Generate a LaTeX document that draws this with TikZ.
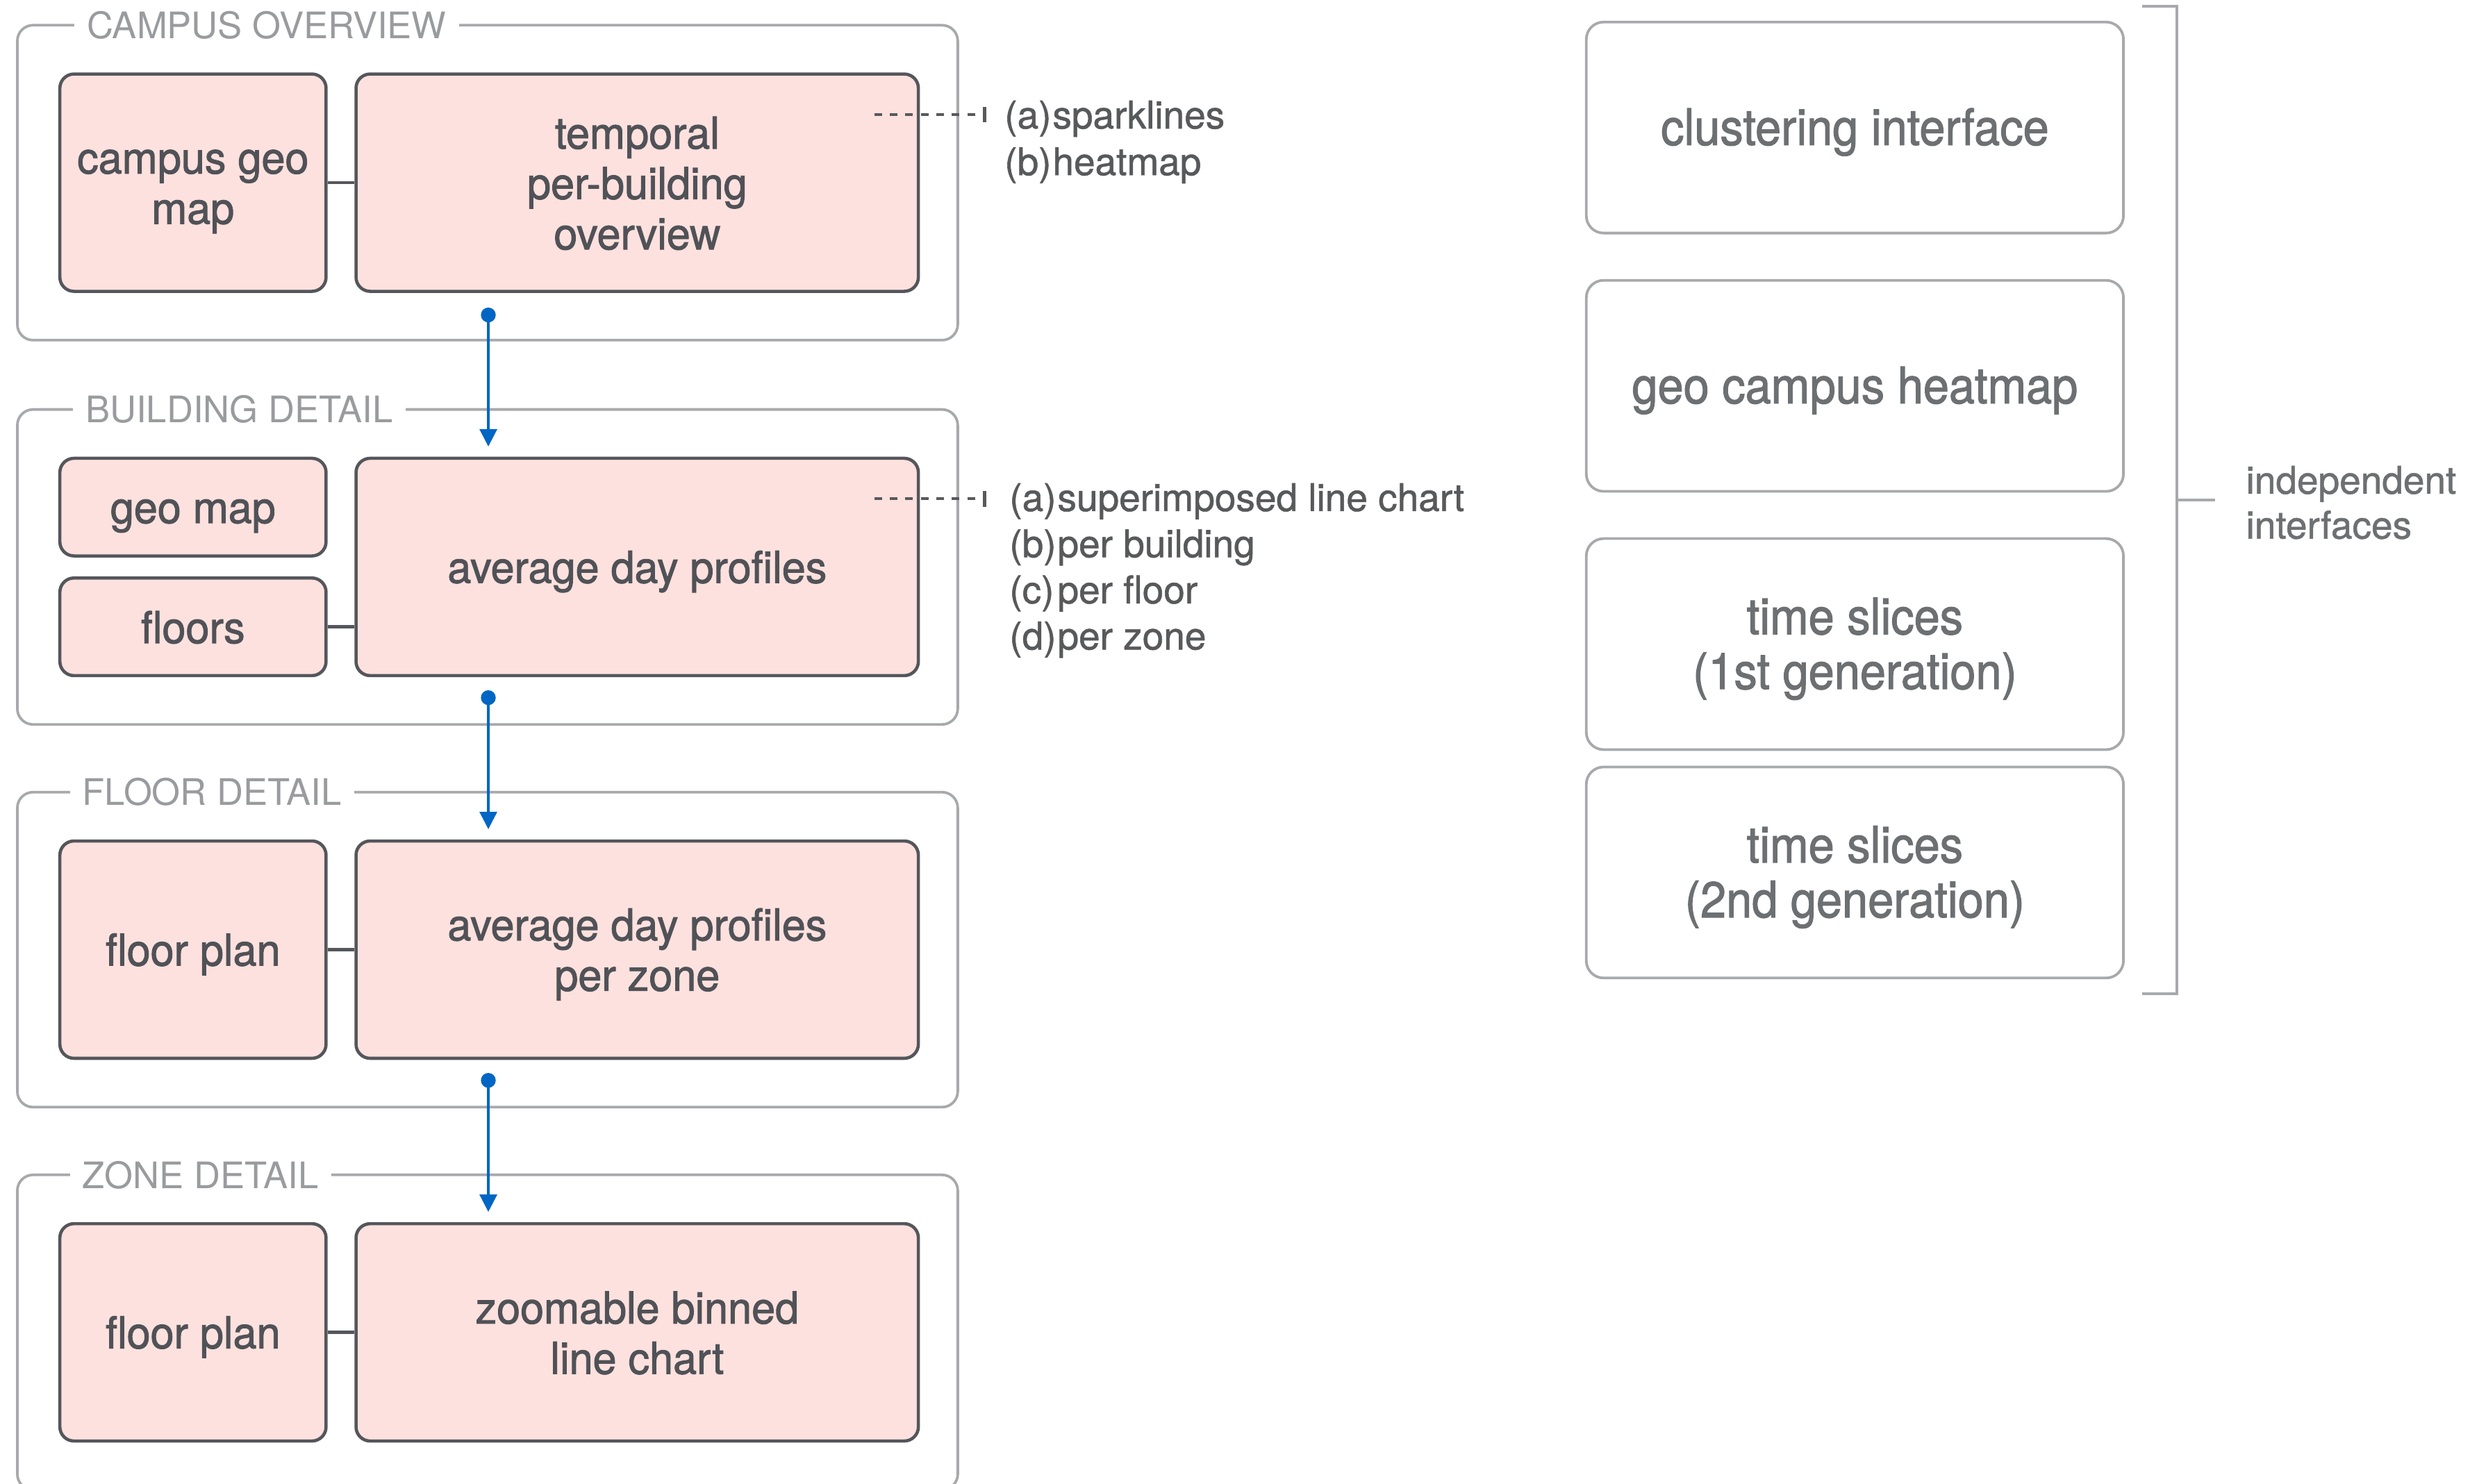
\documentclass[tikz,border=0pt]{standalone}
\usepackage{fontspec}
\setmainfont{TeX Gyre Heros}
\newfontfamily\viewfont{TeX Gyre Heros}[FakeBold=1.5,FakeStretch=0.965]
\newfontfamily\sidefont{TeX Gyre Heros}[FakeBold=1.5,FakeStretch=0.92]
\newfontfamily\annfont{TeX Gyre Heros}[FakeBold=1.0]
\usetikzlibrary{arrows.meta,calc}
\definecolor{pinkfill}{HTML}{FDE1DE}
\definecolor{innerline}{HTML}{54565B}
\definecolor{groupline}{HTML}{A7A9AC}
\definecolor{titlegray}{HTML}{999B9E}
\definecolor{flowblue}{HTML}{0066C4}
\definecolor{innertext}{HTML}{505257}
\definecolor{sidetext}{HTML}{6D7072}
\definecolor{anntext}{HTML}{58595B}
\newcommand\viewstrut{\rule[-3.2pt]{0pt}{18.2pt}}
\newcommand\sidestrut{\rule[-3.2pt]{0pt}{19.8pt}}
\newcommand\viewtype{\viewfont\fontsize{15.9}{18.2}\selectfont\lineskiplimit=-20pt\relax}
\newcommand\sidetype{\sidefont\fontsize{18.2}{19.8}\selectfont\lineskiplimit=-20pt\relax}
\begin{document}
\begin{tikzpicture}[x=0.02cm,y=-0.02cm,
  group/.style={draw=groupline, line width=0.95pt, rounded corners=0.2cm, inner sep=0pt,
    minimum width=597*0.02cm, minimum height=200*0.02cm},
  grouptitle/.style={fill=white, text=titlegray, inner xsep=0.16cm, inner ysep=1pt, anchor=west,
    font=\fontsize{13.2}{15}\selectfont},
  view/.style={draw=innerline, fill=pinkfill, line width=1.15pt, rounded corners=0.18cm, inner sep=0pt,
    align=center, text=innertext, font=\viewtype},
  leftview/.style={view, minimum width=169*0.02cm, minimum height=138*0.02cm},
  smallview/.style={view, minimum width=169*0.02cm, minimum height=62*0.02cm},
  rightview/.style={view, minimum width=357*0.02cm, minimum height=138*0.02cm},
  link/.style={draw=innerline, line width=1.15pt},
  flow/.style={draw=flowblue, line width=0.8pt, {Circle[length=0.188cm]}-{Triangle[length=0.22cm,width=0.22cm]}},
  annline/.style={draw=anntext, line width=1.1pt, dash pattern=on 2.8pt off 2.8pt},
  anntick/.style={draw=anntext, line width=1.1pt},
  ann/.style={anchor=base west, inner sep=0pt, text=anntext, font=\annfont\fontsize{13.8}{16.6}\selectfont},
  side/.style={draw=groupline, line width=0.95pt, rounded corners=0.22cm, inner sep=0pt,
    minimum width=341*0.02cm, minimum height=134*0.02cm, align=center, text=sidetext,
    font=\sidetype},
  bracket/.style={draw=groupline, line width=0.95pt},
  sidelabel/.style={anchor=base west, inner sep=0pt, text=sidetext, font=\annfont\fontsize{13.8}{16.6}\selectfont}
]
\useasboundingbox (0,0) rectangle (1568,942);

% group frames
\node[group] (g1) at (309.5,116) {};
\node[group] (g2) at (309.5,360) {};
\node[group] (g3) at (309.5,603) {};
\node[group] (g4) at (309.5,846) {};
\node[grouptitle] (t1) at (47,16) {CAMPUS OVERVIEW};
\node[grouptitle] (t2) at (46,260) {BUILDING DETAIL};
\node[grouptitle] (t3) at (44,503) {FLOOR DETAIL};
\node[grouptitle] (t4) at (44,746) {ZONE DETAIL};

% campus overview
\node[leftview] (c1) at (122.5,116) {\viewstrut campus geo\\map\viewstrut};
\node[rightview] (c2) at (404.5,116) {\viewstrut temporal\\per-building\\overview\viewstrut};
\draw[link] (c1.east) -- (c2.west);

% building detail
\node[smallview] (b1) at (122.5,322) {\viewstrut geo map};
\node[smallview] (b3) at (122.5,398) {\viewstrut floors};
\node[rightview] (b2) at (404.5,360) {\viewstrut average day profiles};
\draw[link] (b3.east) -- (b3.east -| b2.west);

% floor detail
\node[leftview] (f1) at (122.5,603) {\viewstrut floor plan};
\node[rightview] (f2) at (404.5,603) {\viewstrut average day profiles\\per zone\viewstrut};
\draw[link] (f1.east) -- (f2.west);

% zone detail
\node[leftview] (z1) at (122.5,846) {\viewstrut floor plan};
\node[rightview] (z2) at (404.5,846) {\viewstrut zoomable binned\\line chart\viewstrut};
\draw[link] (z1.east) -- (z2.west);

% drill-down arrows
\coordinate (d1) at (310,195.3);
\coordinate (d2) at (310,438.3);
\coordinate (d3) at (310,681.3);
\draw[flow, shorten >=0.13cm] (d1) -- (d1 |- b2.north);
\draw[flow, shorten >=0.13cm] (d2) -- (d2 |- f2.north);
\draw[flow, shorten >=0.13cm] (d3) -- (d3 |- z2.north);

% annotations
\coordinate (as1) at (555,72.7);
\coordinate (ae1) at (625,72.7);
\draw[annline] (as1) -- (ae1);
\draw[anntick] ($(ae1)+(0,-5)$) -- ($(ae1)+(0,5)$);
\node[ann] (n1a) at (637.4,81.6) {\makebox[0.61cm][l]{(a)}sparklines};
\node[ann] (n1b) at (637.4,111.2) {\makebox[0.61cm][l]{(b)}heatmap};

\coordinate (as2) at (555,316.7);
\coordinate (ae2) at (625,316.7);
\draw[annline] (as2) -- (ae2);
\draw[anntick] ($(ae2)+(0,-5)$) -- ($(ae2)+(0,5)$);
\node[ann] (n2a) at (640.5,324.5) {\makebox[0.61cm][l]{(a)}superimposed line chart};
\node[ann] (n2b) at (640.5,353.8) {\makebox[0.61cm][l]{(b)}per building};
\node[ann] (n2c) at (640.5,383.1) {\makebox[0.61cm][l]{(c)}per floor};
\node[ann] (n2d) at (640.5,412.4) {\makebox[0.61cm][l]{(d)}per zone};

% independent interfaces
\node[side] (s1) at (1177.5,81) {\sidestrut clustering interface};
\node[side] (s2) at (1177.5,245) {\sidestrut geo campus heatmap};
\node[side] (s3) at (1177.5,409) {\sidestrut time slices\\(1st generation)\sidestrut};
\node[side] (s4) at (1177.5,554) {\sidestrut time slices\\(2nd generation)\sidestrut};

\coordinate (bt) at (1360,4);
\coordinate (bb) at (1360,631);
\coordinate (bm) at (1382,317.5);
\draw[bracket] (bt) -- (1382,4) -- (1382,631) -- (bb);
\draw[bracket] (bm) -- ++(24,0);
\node[sidelabel] (l1) at (1425.5,313.5) {independent};
\node[sidelabel] (l2) at (1425.5,342) {interfaces};
\end{tikzpicture}
\end{document}
